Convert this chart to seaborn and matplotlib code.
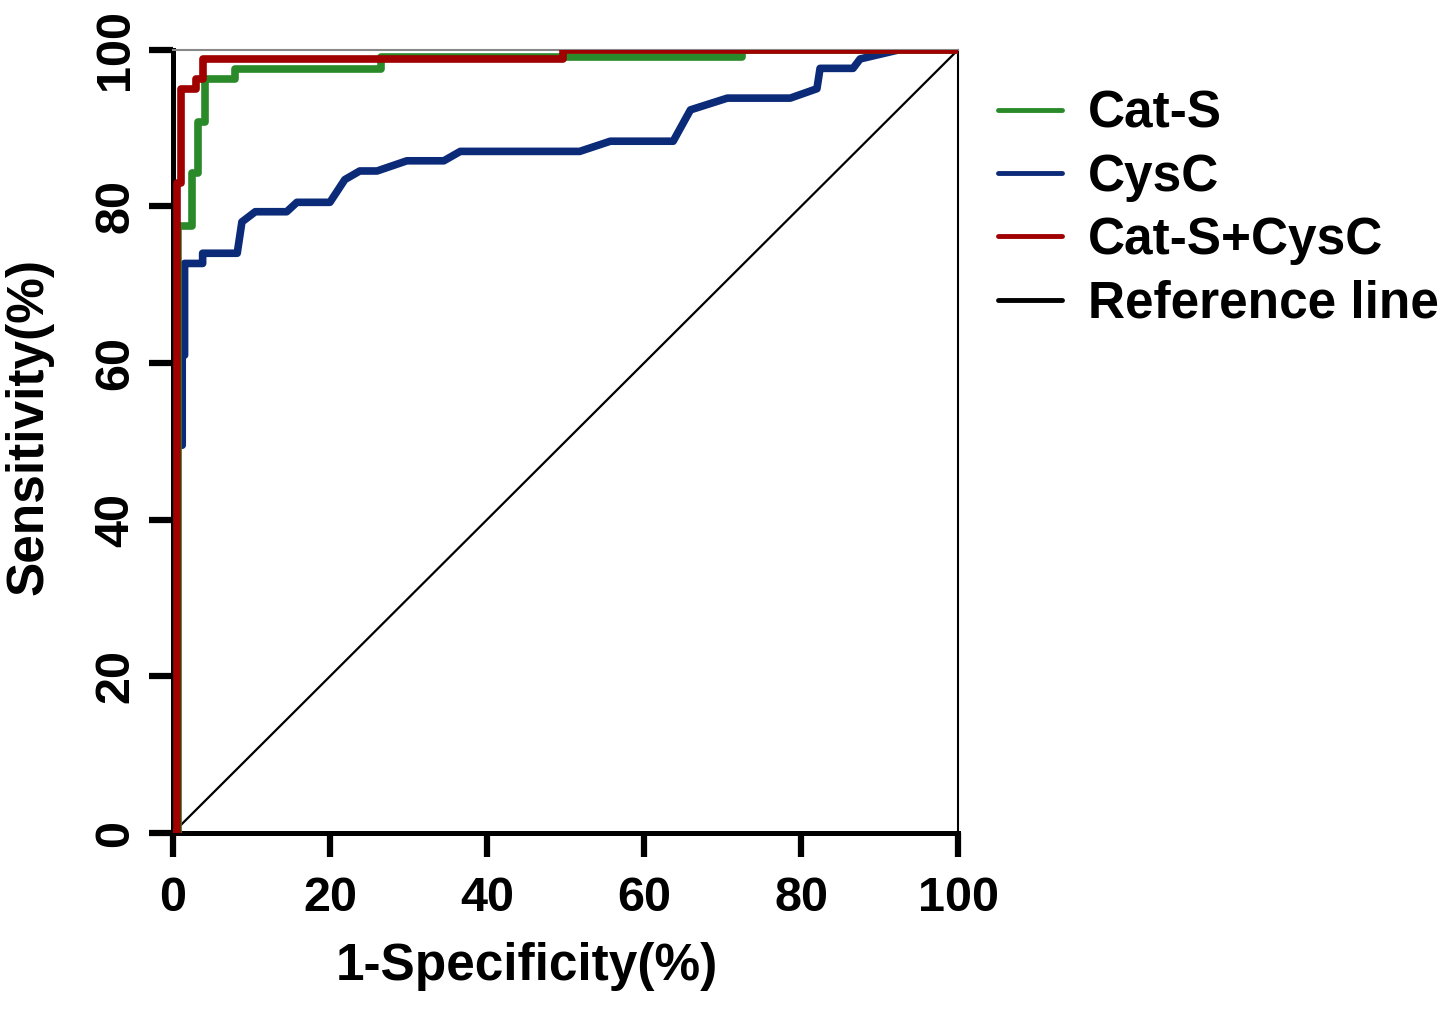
import numpy as np
import pandas as pd
import seaborn as sns
import matplotlib
matplotlib.use("Agg")
import matplotlib.pyplot as plt
from matplotlib.lines import Line2D

# ROC curve data (1-Specificity %, Sensitivity %)
cats_fpr = [0, 0.7, 0.7, 2.4, 2.4, 3.2, 3.2, 4.1, 4.1, 7.9, 7.9, 26.5, 26.5, 72.5, 72.5, 100]
cats_tpr = [0, 0, 77.5, 77.5, 84.3, 84.3, 90.8, 90.8, 96.2, 96.2, 97.5, 97.5, 99, 99, 100, 100]

cysc_fpr = [0, 0.6, 0.6, 1.2, 1.2, 1.5, 1.5, 3.8, 3.8, 8.2, 8.8, 10.5, 14.5, 15.8, 20,
            21.9, 23.8, 26, 29.8, 34.5, 36.6, 51.8, 55.7, 63.7, 65.9, 70.6, 78.6,
            82, 82.4, 86.6, 87.5, 92.6, 100]
cysc_tpr = [0, 0, 49.5, 49.5, 61, 61, 72.7, 72.7, 74, 74, 78, 79.3, 79.3, 80.5, 80.5,
            83.4, 84.5, 84.5, 85.8, 85.8, 87, 87, 88.3, 88.3, 92.3, 93.8, 93.8,
            95, 97.6, 97.6, 98.8, 100, 100]

comb_fpr = [0, 0.5, 0.5, 1.1, 1.1, 3.0, 3.0, 3.8, 3.8, 49.7, 49.7, 100]
comb_tpr = [0, 0, 83, 83, 95, 95, 96.2, 96.2, 98.8, 98.8, 100, 100]

ref_fpr = [0, 100]
ref_tpr = [0, 100]

series_names = ["Cat-S", "CysC", "Cat-S+CysC", "Reference line"]
series_colors = ["#2a8a2a", "#0b2a78", "#a00000", "#000000"]
ticks = [0, 20, 40, 60, 80, 100]

frames = []
for name, fx, ty in [("Reference line", ref_fpr, ref_tpr),
                     ("CysC", cysc_fpr, cysc_tpr),
                     ("Cat-S", cats_fpr, cats_tpr),
                     ("Cat-S+CysC", comb_fpr, comb_tpr)]:
    frames.append(pd.DataFrame({"fpr": fx, "tpr": ty, "series": name,
                                "order": np.arange(len(fx))}))
df = pd.concat(frames, ignore_index=True)

sns.set_style("white")
plt.rcParams['font.family'] = ['Liberation Sans', 'DejaVu Sans']
plt.rcParams['font.weight'] = 'bold'
plt.rcParams['text.color'] = 'black'
plt.rcParams['axes.labelcolor'] = 'black'
plt.rcParams['xtick.color'] = 'black'
plt.rcParams['ytick.color'] = 'black'

fig = plt.figure(figsize=(14.52, 10.11), dpi=100)
ax = fig.add_axes([0.119, 0.176, 0.541, 0.775])

palette = dict(zip(series_names, series_colors))
for name in ["Reference line", "CysC", "Cat-S", "Cat-S+CysC"]:
    sub = df[df["series"] == name]
    lw = 1.6 if name == "Reference line" else 5.5
    sns.lineplot(data=sub, x="fpr", y="tpr", sort=False, estimator=None,
                 color=palette[name], linewidth=lw, ax=ax, legend=False,
                 zorder=3 if name != "Reference line" else 2)

ax.set_xlim(0, 100)
ax.set_ylim(0, 100)
ax.set_xticks(ticks)
ax.set_yticks(ticks)
ax.set_xticklabels([str(t) for t in ticks], fontsize=35, fontweight='bold')
ax.set_yticklabels([str(t) for t in ticks], fontsize=35, fontweight='bold',
                   rotation=90, va='center')
ax.tick_params(axis='both', which='major', bottom=True, left=True, top=False, right=False,
               direction='out', length=17, width=4.5, color='black')
ax.tick_params(axis='x', pad=14)
ax.tick_params(axis='y', pad=8)
ax.set_xlabel("1-Specificity(%)", fontsize=37, fontweight='bold')
ax.set_ylabel("Sensitivity(%)", fontsize=37, fontweight='bold')
ax.xaxis.set_label_coords(0.451, -0.139)
ax.yaxis.set_label_coords(-0.152, 0.519)

for side in ["left", "bottom"]:
    ax.spines[side].set_linewidth(3.6)
    ax.spines[side].set_color("black")
ax.spines["right"].set_linewidth(1.5)
ax.spines["right"].set_color("black")
ax.spines["top"].set_linewidth(1.5)
ax.spines["top"].set_color("#888888")
for s in ax.spines.values():
    s.set_visible(True)
    s.set_zorder(1)

handles = [Line2D([0], [0], color=c, linewidth=3.5) for c in series_colors]
leg = fig.legend(handles, series_names, loc="upper left",
                 bbox_to_anchor=(0.6625, 0.947), frameon=False,
                 prop={'size': 37, 'weight': 'bold'},
                 handlelength=1.25, handletextpad=0.5, labelspacing=0.28,
                 borderpad=0.2)

fig.savefig("out.png", dpi=100)
